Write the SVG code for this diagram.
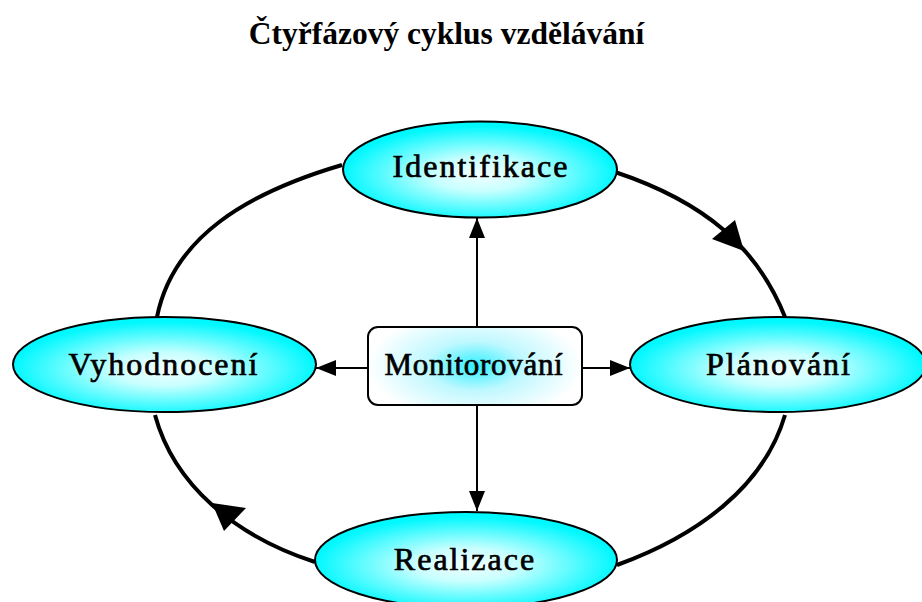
<svg xmlns="http://www.w3.org/2000/svg" width="922" height="602" viewBox="0 0 922 602">
<defs>
<radialGradient id="gEll" cx="50%" cy="55%" r="50%">
<stop offset="0%" stop-color="#f4ffff"/>
<stop offset="35%" stop-color="#c8ffff"/>
<stop offset="100%" stop-color="#00f8ff"/>
</radialGradient>
<radialGradient id="gBox" cx="50%" cy="50%" r="50%" gradientTransform="translate(0.5 0.5) scale(1 1.4) translate(-0.5 -0.5)">
<stop offset="0%" stop-color="#30f0ff"/>
<stop offset="45%" stop-color="#bff8ff"/>
<stop offset="100%" stop-color="#ffffff"/>
</radialGradient>
<marker id="ah" viewBox="0 0 20 16" refX="20" refY="8" markerWidth="20" markerHeight="16" markerUnits="userSpaceOnUse" orient="auto">
<path d="M0,0 L20,8 L0,16 Z" fill="#000"/>
</marker>
<style>
.node ellipse{fill:url(#gEll);stroke:#000;stroke-width:2}
.lbl{font-family:"Liberation Serif","Times New Roman",serif;font-size:32px;letter-spacing:2px;fill:#000;stroke:#000;stroke-width:0.7px;text-anchor:middle}
.arc{fill:none;stroke:#000;stroke-width:4}
.ln{fill:none;stroke:#000;stroke-width:2;marker-end:url(#ah)}
.title{font-family:"Liberation Serif","Times New Roman",serif;font-size:31.5px;font-weight:bold;fill:#000;text-anchor:middle}
</style>
</defs>
<rect width="922" height="602" fill="#fff"/>
<text class="title" x="446.5" y="44">Čtyřfázový cyklus vzdělávání</text>
<g id="connectors">
<path class="arc" d="M342,165 C247,193 173,237 157,317"/>
<path class="arc" d="M615,172 C705,202 757,247 785,317"/>
<path class="arc" d="M785,415 C764,487 697,536 617,565"/>
<path class="arc" d="M155,415 C174,485 235,536 315,562"/>
<polygon points="712,239 735,220 744,251" fill="#000"/>
<polygon points="212,503 246,508 224,531" fill="#000"/>
<line class="ln" x1="477" y1="327" x2="477" y2="218"/>
<line class="ln" x1="477" y1="405" x2="477" y2="511"/>
<line class="ln" x1="368" y1="368" x2="316" y2="368"/>
<line class="ln" x1="582" y1="368" x2="630" y2="368"/>
</g>
<g id="identifikace" class="node">
<ellipse cx="480" cy="169.5" rx="137" ry="48"/>
<text class="lbl" x="481" y="177">Identifikace</text>
</g>
<g id="vyhodnoceni" class="node">
<ellipse cx="164.5" cy="364.5" rx="151.5" ry="47.5"/>
<text class="lbl" x="164" y="375">Vyhodnocení</text>
</g>
<g id="planovani" class="node">
<ellipse cx="778" cy="364.5" rx="148" ry="47.5"/>
<text class="lbl" x="779" y="375">Plánování</text>
</g>
<g id="realizace" class="node">
<ellipse cx="466" cy="560" rx="151" ry="48"/>
<text class="lbl" x="465" y="570">Realizace</text>
</g>
<g id="monitorovani">
<rect x="368" y="327" width="214" height="78" rx="10" ry="10" fill="url(#gBox)" stroke="#000" stroke-width="2"/>
<text class="lbl" x="474" y="375" style="font-size:31px;letter-spacing:0.7px">Monitorování</text>
</g>
</svg>
